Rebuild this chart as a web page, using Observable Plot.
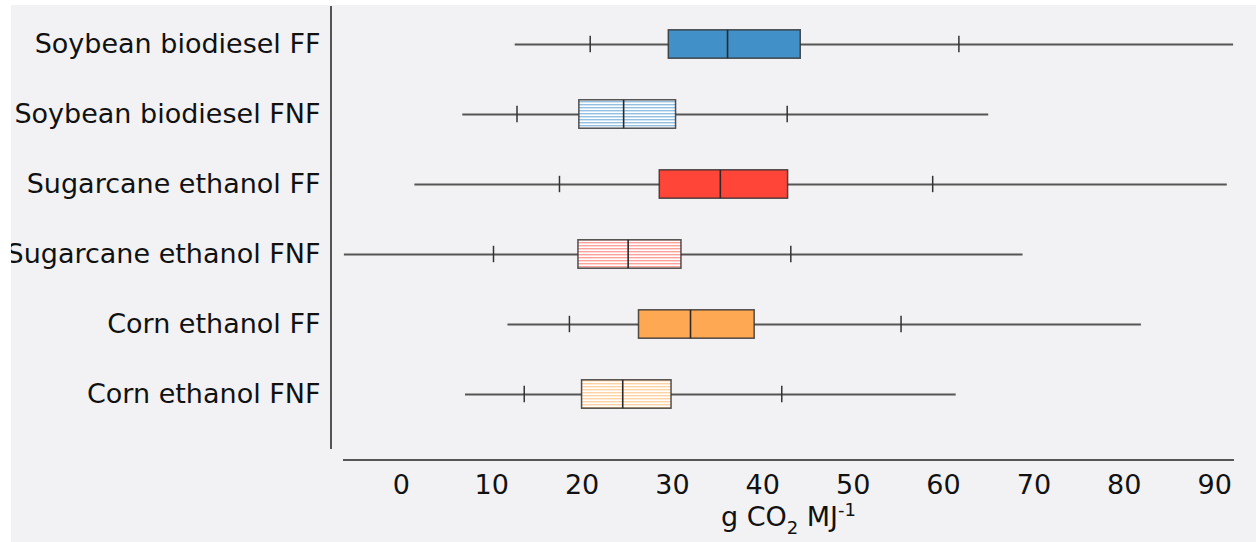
<!DOCTYPE html>
<html>
<head>
<meta charset="utf-8">
<script src="https://cdn.jsdelivr.net/npm/d3@7"></script>
<script src="https://cdn.jsdelivr.net/npm/@observablehq/plot@0.6"></script>
<style>
  html, body { margin: 0; padding: 0; background: #ffffff; }
  #chart { position: absolute; left: 11px; top: 5px; }
  #chart svg { display: block; overflow: hidden; }
</style>
</head>
<body>
<div id="chart"></div>
<script>
// ---- data ----
const categories = [
  "Soybean biodiesel FF",
  "Soybean biodiesel FNF",
  "Sugarcane ethanol FF",
  "Sugarcane ethanol FNF",
  "Corn ethanol FF",
  "Corn ethanol FNF"
];
const minValues    = [12.6, 6.8, 1.5, -6.3, 11.8, 7.1];
const lowTicks     = [20.9, 12.8, 17.5, 10.2, 18.6, 13.6];
const q1Values     = [29.6, 19.7, 28.6, 19.6, 26.3, 20.0];
const medianValues = [36.1, 24.6, 35.3, 25.1, 32.0, 24.5];
const q3Values     = [44.2, 30.4, 42.8, 31.0, 39.1, 29.9];
const highTicks    = [61.7, 42.7, 58.8, 43.1, 55.3, 42.1];
const maxValues    = [92.1, 65.0, 91.4, 68.8, 81.9, 61.4];
const boxFills = [
  "#4190c7", "url(#hatch-blue)",
  "#ff4538", "url(#hatch-red)",
  "#ffa853", "url(#hatch-orange)"
];
const xTicks = [0, 10, 20, 30, 40, 50, 60, 70, 80, 90];
// axis title pieces: [text, role]
const xLabelParts = [["g CO", "base"], ["2", "sub"], [" MJ", "base"], ["-1", "sup"]];

// table built from the arrays
const rows = categories.map((c, i) => ({
  cat: c, min: minValues[i], lo: lowTicks[i], q1: q1Values[i],
  med: medianValues[i], q3: q3Values[i], hi: highTicks[i], max: maxValues[i],
  fill: boxFills[i]
}));
const tickRows = rows.flatMap(r => [{cat: r.cat, v: r.lo}, {cat: r.cat, v: r.hi}]);

// defs (hatch patterns), offset axis lines and the axis title
function decor(index, scales, values, dims) {
  const {width, height, marginLeft, marginRight, marginTop, marginBottom} = dims;
  const g = d3.create("svg:g");
  const defs = g.append("defs");
  const hatches = [["hatch-blue", "#92bfe2"], ["hatch-red", "#ffa19b"], ["hatch-orange", "#ffd2a4"]];
  for (const [id, col] of hatches) {
    const p = defs.append("pattern").attr("id", id)
      .attr("patternUnits", "userSpaceOnUse").attr("width", 10).attr("height", 3);
    p.append("rect").attr("width", 10).attr("height", 3).attr("fill", "#ffffff");
    p.append("rect").attr("width", 10).attr("height", 1.4).attr("fill", col);
  }
  g.append("line")
    .attr("x1", marginLeft - 12).attr("x2", marginLeft - 12)
    .attr("y1", marginTop).attr("y2", height - marginBottom)
    .attr("stroke", "#555").attr("stroke-width", 2);
  g.append("line")
    .attr("x1", marginLeft).attr("x2", width - marginRight)
    .attr("y1", height - marginBottom + 11).attr("y2", height - marginBottom + 11)
    .attr("stroke", "#222").attr("stroke-width", 1.6);
  const t = g.append("text")
    .attr("x", (marginLeft + width - marginRight) / 2)
    .attr("y", height - marginBottom + 77)
    .attr("text-anchor", "middle")
    .attr("font-size", 27)
    .attr("fill", "#111");
  let shift = 0;
  for (const [s, role] of xLabelParts) {
    const target = role === "sub" ? 8 : role === "sup" ? -10 : 0;
    t.append("tspan")
      .attr("dy", target - shift)
      .attr("font-size", role === "base" ? 27 : 18)
      .text(s);
    shift = target;
  }
  return g.node();
}

const boxInset = 20.8;
const tickInset = 26.8;

const chart = Plot.plot({
  width: 1245,
  height: 537,
  marginLeft: 332,
  marginRight: 22,
  marginTop: 1,
  marginBottom: 93,
  style: {
    background: "#f2f2f4",
    fontFamily: "DejaVu Sans, sans-serif",
    fontSize: "27px",
    color: "#111"
  },
  x: {domain: [-6.4, 92.2]},
  y: {domain: categories, range: [2.4, 426.3], padding: 0},
  color: {type: "identity"},
  marks: [
    decor,
    Plot.ruleY(rows, {y: "cat", x1: "min", x2: "max", stroke: "#555", strokeWidth: 1.8}),
    Plot.barX(rows, {
      y: "cat", x1: "q1", x2: "q3", fill: "fill",
      stroke: "#333", strokeOpacity: 0.85, strokeWidth: 1.5,
      insetTop: boxInset, insetBottom: boxInset
    }),
    Plot.tickX(rows, {y: "cat", x: "med", stroke: "#2a2a2a", strokeWidth: 1.6, insetTop: boxInset, insetBottom: boxInset}),
    Plot.tickX(tickRows, {y: "cat", x: "v", stroke: "#333", strokeWidth: 1.5, insetTop: tickInset, insetBottom: tickInset}),
    Plot.axisY({tickSize: 0, tickPadding: 23, fontSize: 27, label: null}),
    Plot.axisX({ticks: xTicks, tickSize: 0, tickPadding: 25, fontSize: 27, label: null})
  ]
});
document.getElementById("chart").appendChild(chart);
</script>
</body>
</html>
